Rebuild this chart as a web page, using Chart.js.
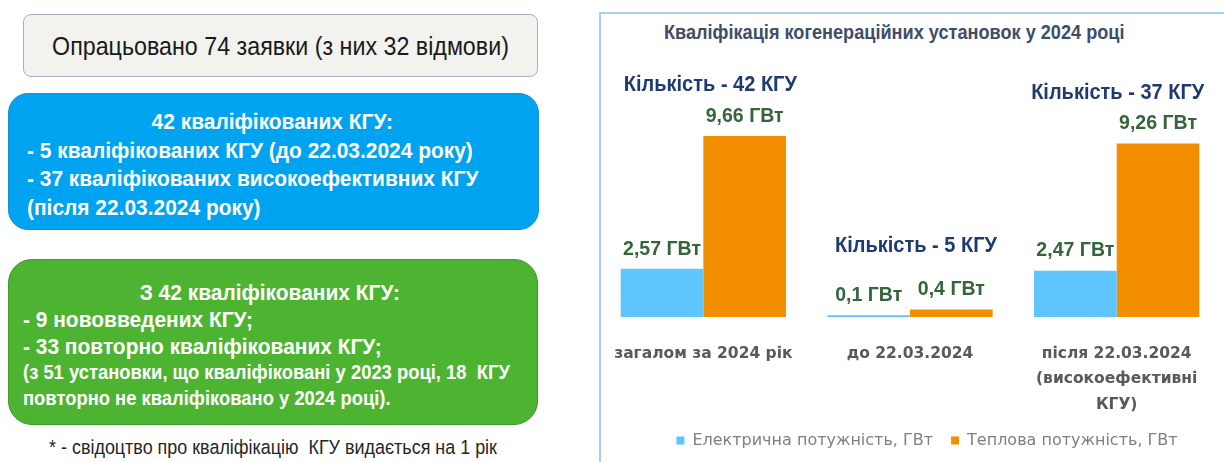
<!DOCTYPE html>
<html lang="uk">
<head>
<meta charset="UTF-8">
<title>Кваліфікація КГУ у 2024 році</title>
<script src="https://cdn.jsdelivr.net/npm/chart.js"></script>
<style>
  body {
    margin: 0;
    width: 1224px;
    height: 462px;
    overflow: hidden;
    position: relative;
    background: #fff;
    font-family: 'Liberation Sans', Arial, sans-serif;
  }
  .box { position: absolute; box-sizing: border-box; }
  /* narrow look: Liberation Sans squeezed horizontally */
  .sq {
    transform: scaleX(0.93);
    transform-origin: 0 0;
    width: calc(100% / 0.93);
    white-space: nowrap;
  }
  .total {
    left: 23px; top: 14px; width: 515px; height: 63px;
    background: #f2f2ef; border: 1px solid #a9afbf; border-radius: 8px;
    font-size: 25px; line-height: 63px; color: #1a1a1a;
  }
  .total .sq { text-align: center; }
  .blue {
    left: 8px; top: 93px; width: 531px; height: 137px;
    background: #00a3ef; border: 1px solid #1a8fd0; border-radius: 20px;
    color: #fff; font-weight: bold; font-size: 22.5px; line-height: 28.5px;
    padding: 14px 0 0 18px;
  }
  .green {
    left: 8px; top: 259px; width: 530px; height: 166px;
    background: #4db431; border: 1px solid #3c9a2a; border-radius: 24px;
    color: #fff; font-weight: bold; font-size: 22.5px; line-height: 27px;
    padding: 19px 0 0 14px;
  }
  .green .small { font-size: 19.8px; line-height: 25.5px; }
  .center { text-align: center; padding-right: 22px; }
  .note {
    position: absolute; left: 0; width: 546px; top: 437px;
    font-size: 19.3px; color: #262626;
  }
  .note .sq { text-align: center; }
  .frame {
    position: absolute; left: 599px; top: 12px; width: 700px; height: 500px;
    border: 2px solid #a9d0ef; box-sizing: border-box;
  }
  .title {
    position: absolute; left: 664px; top: 21px; width: 520px;
    font-weight: bold; font-size: 19.5px; color: #404d68;
  }
  .chart-wrap { position: absolute; left: 599px; top: 0; width: 655px; height: 462px; }
</style>
</head>
<body>
  <div class="box total"><div class="sq">Опрацьовано 74 заявки (з них 32 відмови)</div></div>
  <div class="box blue"><div class="sq">
    <div class="center">42 кваліфікованих КГУ:</div>
    <div>- 5 кваліфікованих КГУ (до 22.03.2024 року)</div>
    <div>- 37 кваліфікованих високоефективних КГУ</div>
    <div>(після 22.03.2024 року)</div>
  </div></div>
  <div class="box green"><div class="sq">
    <div class="center">З 42 кваліфікованих КГУ:</div>
    <div>- 9 нововведених КГУ;</div>
    <div>- 33 повторно кваліфікованих КГУ;</div>
    <div class="small">(з 51 установки, що кваліфіковані у 2023 році, 18&nbsp; КГУ</div>
    <div class="small">повторно не кваліфіковано у 2024 році).</div>
  </div></div>
  <div class="note"><div class="sq">* - свідоцтво про кваліфікацію&nbsp; КГУ видається на 1 рік</div></div>

  <div class="frame"></div>
  <div class="title"><div class="sq">Кваліфікація когенераційних установок у 2024 році</div></div>
  <div class="chart-wrap"><canvas id="kguChart"></canvas></div>

<script>
const categories = ['загалом за 2024 рік', 'до 22.03.2024', ['після 22.03.2024', '(високоефективні', 'КГУ)']];
const electricGW = [2.57, 0.1, 2.47];
const thermalGW = [9.66, 0.4, 9.26];
const unitCounts = [42, 5, 37];
const seriesNames = ['Електрична потужність, ГВт', 'Теплова потужність, ГВт'];

// squeezed text, centred on x
function narrowText(ctx, txt, x, y, s) {
    ctx.save();
    ctx.translate(x, y);
    ctx.scale(s, 1);
    ctx.fillText(txt, 0, 0);
    ctx.restore();
}

// value labels above bars and "Кількість" labels above each group
const barLabels = {
    id: 'barLabels',
    afterDatasetsDraw(chart, args, opts) {
        const ctx = chart.ctx;
        ctx.save();
        ctx.textAlign = 'center';
        ctx.textBaseline = 'middle';
        ctx.font = 'bold 21px "Liberation Sans", Arial, sans-serif';
        ctx.fillStyle = opts.valueColor;
        chart.data.datasets.forEach((ds, di) => {
            chart.getDatasetMeta(di).data.forEach((bar, i) => {
                const txt = String(ds.data[i]).replace('.', ',') + ' ГВт';
                narrowText(ctx, txt, bar.x, bar.y - opts.valueGap, opts.squeeze);
            });
        });
        ctx.font = 'bold 21.5px "Liberation Sans", Arial, sans-serif';
        ctx.fillStyle = opts.countColor;
        const xs = chart.scales.x;
        unitCounts.forEach((n, i) => {
            const top = Math.min(...chart.data.datasets.map((d, di) => chart.getDatasetMeta(di).data[i].y));
            narrowText(ctx, 'Кількість - ' + n + ' КГУ', xs.getPixelForValue(i) + opts.countShift[i], top - opts.countGap[i], opts.squeeze);
        });
        ctx.restore();
    }
};

new Chart(document.getElementById('kguChart'), {
    type: 'bar',
    data: {
        labels: categories,
        datasets: [
            { label: seriesNames[0], data: electricGW, backgroundColor: '#5ec5fd', borderWidth: 0 },
            { label: seriesNames[1], data: thermalGW, backgroundColor: '#f28e00', borderWidth: 0 }
        ]
    },
    options: {
        responsive: true,
        maintainAspectRatio: false,
        animation: false,
        layout: { padding: { left: 1, right: 0, top: 92, bottom: 3.5 } },
        datasets: { bar: { categoryPercentage: 0.8, barPercentage: 1.0 } },
        scales: {
            x: {
                grid: { display: false, drawTicks: false },
                border: { display: false },
                ticks: {
                    padding: 24,
                    color: '#595959',
                    font: { family: "'DejaVu Sans', sans-serif", size: 15.5, weight: 'bold', lineHeight: 1.65 }
                },
                afterFit(scale) {
                    scale.height = 97.5;
                    scale.paddingLeft = 0;
                    scale.paddingRight = 0;
                }
            },
            y: {
                position: 'right',
                min: 0,
                max: 12,
                grid: { display: false, drawTicks: false },
                border: { display: false },
                ticks: { display: false },
                afterFit(scale) { scale.width = 34; }
            }
        },
        plugins: {
            legend: {
                position: 'bottom',
                labels: {
                    boxWidth: 8,
                    boxHeight: 8,
                    padding: 18,
                    color: '#808080',
                    font: { family: "'DejaVu Sans', sans-serif", size: 16 }
                }
            },
            tooltip: { enabled: false },
            barLabels: {
                valueColor: '#35653a',
                valueGap: 20,
                countColor: '#1f3a6e',
                countShift: [7, 6, 1],
                countGap: [51, 63, 50],
                squeeze: 0.93
            }
        }
    },
    plugins: [barLabels]
});
</script>
</body>
</html>
